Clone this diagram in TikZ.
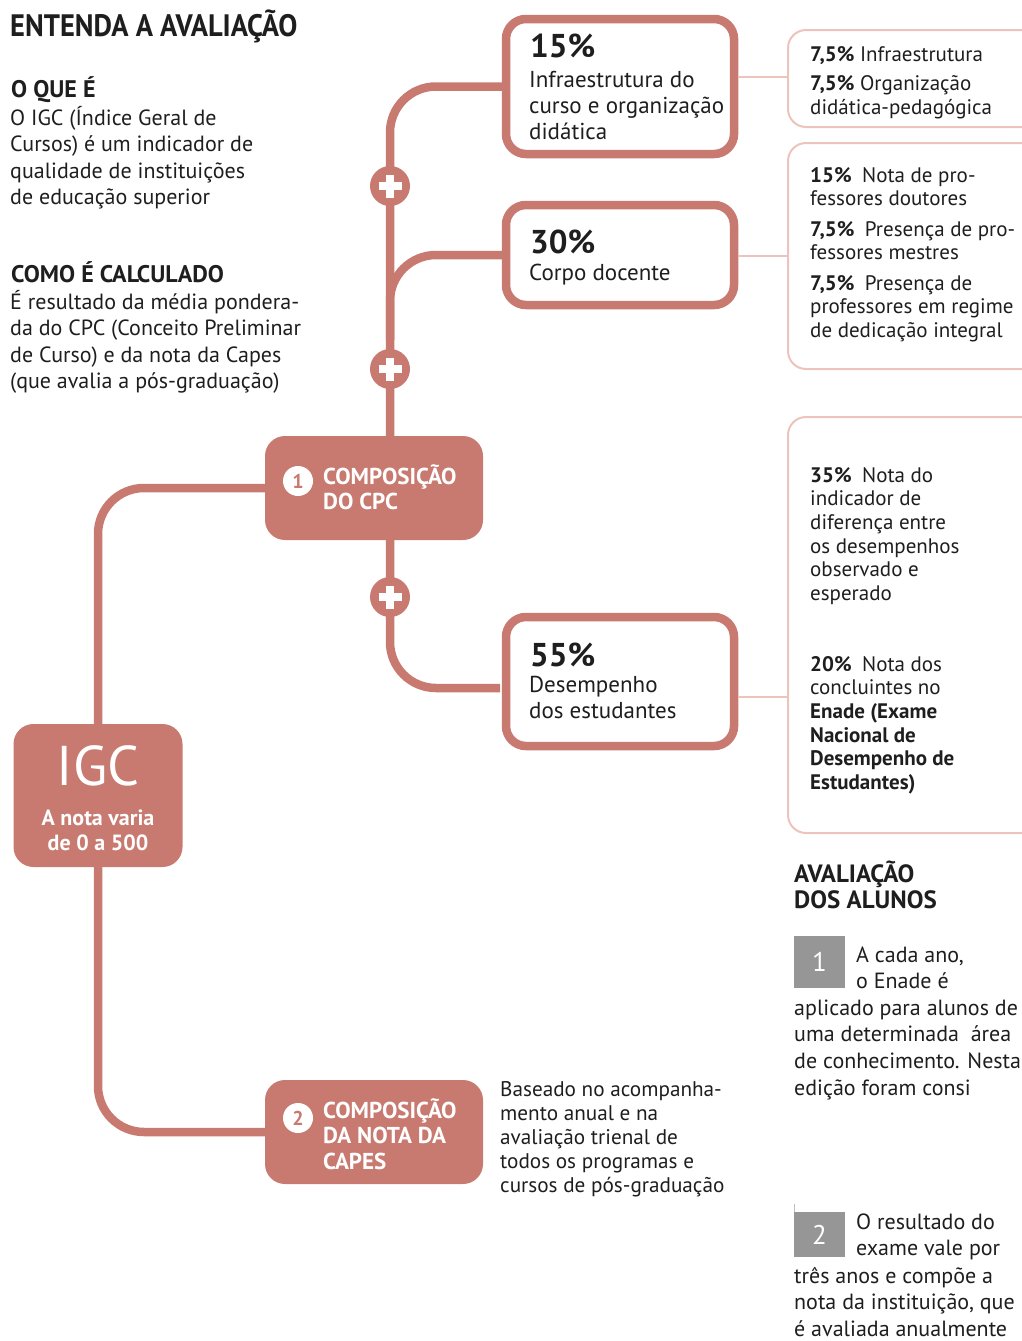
\documentclass[tikz,border=0pt]{standalone}
\usepackage{fontspec}
\setmainfont{PT Sans}
\definecolor{salmon}{RGB}{200,122,112}
\definecolor{lightsalmon}{RGB}{236,196,188}
\definecolor{ink}{RGB}{30,30,30}
\definecolor{graybox}{RGB}{150,150,150}
\newcommand{\fsz}[2]{\fontsize{#1pt}{#2pt}\selectfont}
\newcommand{\tstr}{\rule{0pt}{30pt}}
\begin{document}
\begin{tikzpicture}[x=1pt,y=-1pt,
  conn/.style={draw=salmon, line width=8.5pt, rounded corners=46pt},
  mainbox/.style={draw=salmon, line width=8.5pt, fill=white, rounded corners=20pt,
    minimum width=228pt, minimum height=#1, inner sep=0pt},
  fillbox/.style={fill=salmon, rounded corners=20pt, inner sep=0pt},
  lbox/.style={draw=lightsalmon, line width=2pt, rounded corners=18pt},
  lconn/.style={draw=lightsalmon, line width=2pt},
  plusc/.style={circle, fill=salmon, minimum size=40pt, inner sep=0pt,
    path picture={\draw[white, line width=8pt] (path picture bounding box.center) ++(-11.5pt,0) -- ++(23pt,0);
                  \draw[white, line width=8pt] (path picture bounding box.center) ++(0,-11.5pt) -- ++(0,23pt);}},
  numc/.style={circle, fill=white, minimum size=30pt, inner sep=0pt, text=salmon, font=\fsz{20}{22}\bfseries},
  grayb/.style={fill=graybox, inner sep=0pt, text=white, font=\fsz{27}{30}},
  txt/.style={anchor=north west, inner sep=0pt, align=left, text=ink},
  btxt/.style={anchor=base west, inner sep=0pt, text=ink},
  wtxt/.style={anchor=north west, inner sep=0pt, align=left, text=white, font=\fsz{23}{25.5}\bfseries}
]
\useasboundingbox (0,0) rectangle (1022,1341);

% ---------- main boxes ----------
\node[mainbox=135pt] (b15) at (620,86.5) {};
\node[mainbox=100pt] (b30) at (620,255) {};
\node[mainbox=129pt] (b55) at (620,681.5) {};
\node[fillbox, minimum width=218pt, minimum height=104pt] (cpc) at (374,488) {};
\node[fillbox, minimum width=218pt, minimum height=104pt] (capes) at (374,1132) {};
\node[fillbox, minimum width=169pt, minimum height=143pt] (igc) at (98,795.5) {};

% ---------- connectors ----------
\coordinate (sp) at (390,0);
\coordinate (j30) at (390,340);
\coordinate (c55) at (500,688);
\draw[conn] (cpc.north -| sp) |- (b15.west);
\draw[conn] (j30) |- (b30.west);
\draw[conn] (cpc.south -| sp) |- (c55);
\draw[conn] (cpc.west) -| (igc.north);
\draw[conn] (igc.south) |- (capes.west);

\node[plusc] (pl1) at (390,186) {};
\node[plusc] (pl2) at (390,369) {};
\node[plusc] (pl3) at (390,597) {};

% ---------- light boxes ----------
\coordinate (rA) at (788,77);
\coordinate (rB) at (788,256);
\coordinate (rC) at (788,697);
\draw[lbox] (1030,30) -- (788,30) -- (788,127) -- (1030,127);
\draw[lbox] (1030,143) -- (788,143) -- (788,369) -- (1030,369);
\draw[lbox] (1030,417) -- (788,417) -- (788,833) -- (1030,833);
\draw[lconn] (rA -| b15.east) -- (rA);
\draw[lconn] (rB -| b30.east) -- (rB);
\draw[lconn] (rC -| b55.east) -- (rC);

% ---------- left texts ----------
\node[btxt, font=\fsz{31}{36}\bfseries\addfontfeatures{FakeStretch=0.92}] (title) at (10,36) {ENTENDA A AVALIAÇÃO};
\node[btxt, font=\fsz{24}{26}\bfseries] (oque) at (11,97) {O QUE É};
\node[txt, font=\fsz{22}{26.5}] (para1) at (10,95) {\tstr O IGC (Índice Geral de\\Cursos) é um indicador de\\qualidade de instituições\\de educação superior};
\node[btxt, font=\fsz{24}{26}\bfseries] (como) at (11,282) {COMO É CALCULADO};
\node[txt, font=\fsz{22}{26.5}] (para2) at (10,279) {\tstr É resultado da média pondera-\\da do CPC (Conceito Preliminar\\de Curso) e da nota da Capes\\(que avalia a pós-graduação)};

% ---------- main box texts ----------
\node[btxt, font=\fsz{33}{34}\bfseries] (p15) at (530,57) {15\%};
\node[txt, font=\fsz{23}{26}] (t15) at (529,57) {\tstr Infraestrutura do\\curso e organização\\didática};
\node[btxt, font=\fsz{33}{34}\bfseries] (p30) at (530,253) {30\%};
\node[btxt, font=\fsz{23}{26}] (t30) at (529,280) {Corpo docente};
\node[btxt, font=\fsz{33}{34}\bfseries] (p55) at (530,666) {55\%};
\node[txt, font=\fsz{23}{26}] (t55) at (529,662) {\tstr Desempenho\\dos estudantes};

% ---------- CPC / CAPES ----------
\node[numc] (n1) at (298,481) {1};
\node[wtxt] (tcpc) at (323,454) {\tstr COMPOSIÇÃO\\DO CPC};
\node[numc] (n2) at (298,1118) {2};
\node[wtxt] (tcapes) at (323,1088) {\tstr COMPOSIÇÃO\\DA NOTA DA\\CAPES};

% ---------- IGC ----------
\node[anchor=base, inner sep=0pt, text=white, font=\fsz{56}{60}] (tigc) at (98,785) {IGC};
\node[anchor=north, inner sep=0pt, align=center, text=white, font=\fsz{22}{25.5}\bfseries] (tnota) at (98,795) {\tstr A nota varia\\de 0 a 500};

% ---------- Baseado ----------
\node[txt, font=\fsz{21.2}{24}] (tbase) at (500,1066) {\tstr Baseado no acompanha-\\mento anual e na\\avaliação trienal de\\todos os programas e\\cursos de pós-graduação};

% ---------- right box texts ----------
\node[btxt, font=\fsz{21}{24}] (ra1) at (810,61) {\textbf{7,5\%} Infraestrutura};
\node[txt, font=\fsz{21}{24}] (ra2) at (810,60) {\tstr\textbf{7,5\%} Organização\\didática-pedagógica};
\node[txt, font=\fsz{21}{23.5}] (rb1) at (810,152) {\tstr\textbf{15\%}\enspace Nota de pro-\\fessores doutores};
\node[txt, font=\fsz{21}{23.5}] (rb2) at (810,206) {\tstr\textbf{7,5\%}\enspace Presença de pro-\\fessores mestres};
\node[txt, font=\fsz{21}{23.5}] (rb3) at (810,260) {\tstr\textbf{7,5\%}\enspace Presença de\\professores em regime\\de dedicação integral};
\node[txt, font=\fsz{21}{23.6}] (rc1) at (810,452) {\tstr\textbf{35\%}\enspace Nota do\\indicador de\\diferença entre\\os desempenhos\\observado e\\esperado};
\node[txt, font=\fsz{21}{23.6}] (rc2) at (810,641) {\tstr\textbf{20\%}\enspace Nota dos\\concluintes no\\\textbf{Enade (Exame}\\\textbf{Nacional de}\\\textbf{Desempenho de}\\\textbf{Estudantes)}};

% ---------- Avaliação dos alunos ----------
\node[txt, font=\fsz{25}{26.5}\bfseries] (aval) at (794,852) {\tstr AVALIAÇÃO\\DOS ALUNOS};
\node[grayb, minimum width=51pt, minimum height=52pt] (g1) at (819.5,962) {1};
\node[txt, font=\fsz{22}{26.7}] (a1) at (856,932) {\tstr A cada ano,\\o Enade é};
\node[txt, font=\fsz{22}{26.7}] (a1b) at (794,985) {\tstr aplicado para alunos de\\uma determinada\ \ área\\de conhecimento. Nesta\\edição foram consi};
\draw[draw=graybox!60, line width=1pt] (794,1204) -- (794,1212);
\node[grayb, minimum width=51pt, minimum height=45pt] (g2) at (819.5,1234.5) {2};
\node[txt, font=\fsz{22}{26.7}] (a2) at (856,1199) {\tstr O resultado do\\exame vale por};
\node[txt, font=\fsz{22}{26.7}] (a2b) at (794,1253) {\tstr três anos e compõe a\\nota da instituição, que\\é avaliada anualmente};
\end{tikzpicture}
\end{document}
